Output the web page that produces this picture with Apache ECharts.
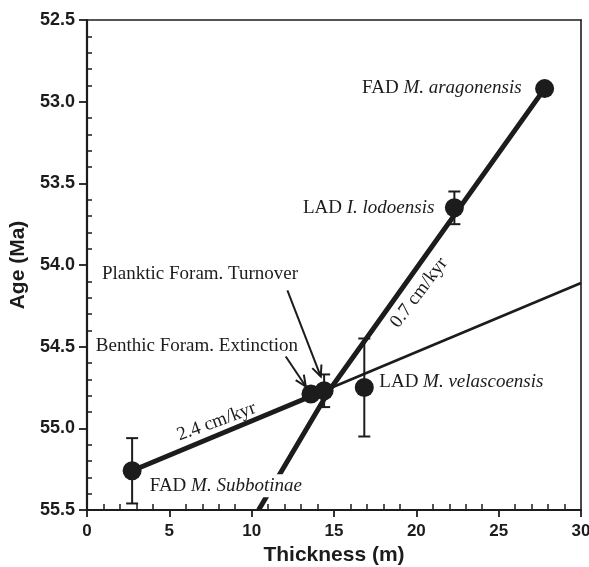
<!DOCTYPE html>
<html>
<head>
<meta charset="utf-8">
<style>
  html, body { margin: 0; padding: 0; background: #fff; }
  #chart { width: 589px; height: 567px; }
</style>
<script src="https://cdn.jsdelivr.net/npm/echarts@6/dist/echarts.min.js"></script>
</head>
<body>
<div id="chart"></div>
<script>
// ---- data ----
const eventPrefix = ['FAD ', 'Benthic Foram. Extinction', 'Planktic Foram. Turnover', 'LAD ', 'LAD ', 'FAD '];
const eventTaxon  = ['M. Subbotinae', '', '', 'M. velascoensis', 'I. lodoensis', 'M. aragonensis'];
const thickness = [2.74, 13.6, 14.4, 16.84, 22.31, 27.79];   // m
const age       = [55.26, 54.79, 54.77, 54.75, 53.65, 52.92]; // Ma
const ageError  = [0.2, 0, 0.1, 0.3, 0.1, 0];                 // Ma (+/-)

// 2.4 cm/kyr fit (thick part) and its extension
const slowFitX = [2.74, 14.4];
const slowFitY = [55.26, 54.77];
const slowExtX = [14.4, 30];
const slowExtY = [54.77, 54.11];
// 0.7 cm/kyr fit
const fastFitX = [10.42, 14.7, 27.79];
const fastFitY = [55.5, 54.77, 52.92];

const rateText = ['2.4 cm/kyr', '0.7 cm/kyr'];
const rateAtX  = [7.87, 20.16];
const rateAtY  = [54.96, 54.17];
const rateAngle = [20, 53];

// arrows: [fromX, fromY, toX, toY]
const arrowFromX = [12.17, 12.07];
const arrowFromY = [54.156, 54.56];
const arrowToX   = [14.2, 13.29];
const arrowToY   = [54.683, 54.744];

const xTickLabels = ['0', '5', '10', '15', '20', '25', '30'];
const yTickLabels = ['52.5', '53.0', '53.5', '54.0', '54.5', '55.0', '55.5'];

// ---- presentation ----
const INK = '#1c1c1c';
const SERIF = '"Liberation Serif", "DejaVu Serif", serif';
const SANS = '"Liberation Sans", Arial, sans-serif';

const labelLayout = [
  { align: 'left',  offset: [16.6, 15],   bg: true },
  { align: 'right', offset: [-13, -48] },
  { align: 'right', offset: [-26, -117] },
  { align: 'left',  offset: [15, -5.5] },
  { align: 'right', offset: [-20, 0] },
  { align: 'right', offset: [-23, -1] }
];

const pts = thickness.map((x, i) => {
  const L = labelLayout[i];
  const txt = eventTaxon[i] ? '{n|' + eventPrefix[i] + '}{i|' + eventTaxon[i] + '}' : '{n|' + eventPrefix[i] + '}';
  return {
    value: [x, age[i]],
    label: {
      show: true,
      position: 'inside',
      align: L.align,
      verticalAlign: 'middle',
      offset: L.offset,
      formatter: txt,
      backgroundColor: L.bg ? '#fff' : 'transparent',
      padding: L.bg ? [2, 1, 2, 1] : 0,
      rich: {
        n: { fontFamily: SERIF, fontSize: 19, color: INK },
        i: { fontFamily: SERIF, fontSize: 19, fontStyle: 'italic', color: INK }
      }
    }
  };
});

const errData = thickness.map((x, i) => [x, age[i] - ageError[i], age[i] + ageError[i]]).filter((d, i) => ageError[i] > 0);
const arrowData = arrowFromX.map((x, i) => [x, arrowFromY[i], arrowToX[i], arrowToY[i]]);
const rateData = rateText.map((t, i) => [rateAtX[i], rateAtY[i], i]);

const baseX = { type: 'value', min: 0, max: 30, interval: 5, gridIndex: 0, splitLine: { show: false } };
const baseY = { type: 'value', min: 52.5, max: 55.5, interval: 0.5, inverse: true, gridIndex: 0, splitLine: { show: false } };

const chart = echarts.init(document.getElementById('chart'), null, { renderer: 'canvas' });
chart.setOption({
  backgroundColor: '#fff',
  animation: false,
  grid: { left: 87, right: 8, top: 20, bottom: 57, containLabel: false, outerBoundsMode: 'none' },
  xAxis: [
    Object.assign({}, baseX, {
      position: 'bottom',
      name: 'Thickness (m)', nameLocation: 'middle', nameGap: 35,
      nameTextStyle: { fontFamily: SANS, fontWeight: 'bold', fontSize: 21, color: INK },
      axisLine: { show: true, onZero: false, lineStyle: { color: INK, width: 2.2 } },
      axisTick: { show: true, length: 7, lineStyle: { color: INK, width: 1.8 } },
      axisLabel: { margin: 13, fontFamily: SANS, fontWeight: 'bold', fontSize: 17, color: INK,
        formatter: v => xTickLabels[Math.round(v / 5)] }
    }),
    Object.assign({}, baseX, {
      position: 'bottom',
      axisLine: { show: false, onZero: false },
      axisTick: { show: true, inside: true, length: 0.01, lineStyle: { opacity: 0, width: 0 } },
      axisLabel: { show: false },
      minorTick: { show: true, splitNumber: 5, length: 6, lineStyle: { color: INK, width: 1.5 } }
    }),
    Object.assign({}, baseX, {
      position: 'top',
      axisLine: { show: true, onZero: false, lineStyle: { color: INK, width: 1.6 } },
      axisTick: { show: false }, axisLabel: { show: false }
    })
  ],
  yAxis: [
    Object.assign({}, baseY, {
      position: 'left',
      name: 'Age (Ma)', nameLocation: 'middle', nameGap: 54,
      nameTextStyle: { fontFamily: SANS, fontWeight: 'bold', fontSize: 21, color: INK },
      axisLine: { show: true, onZero: false, lineStyle: { color: INK, width: 2.2 } },
      axisTick: { show: true, length: 8, lineStyle: { color: INK, width: 1.8 } },
      axisLabel: { margin: 12, fontFamily: SANS, fontWeight: 'bold', fontSize: 18, color: INK,
        formatter: v => yTickLabels[Math.round((v - 52.5) / 0.5)] }
    }),
    Object.assign({}, baseY, {
      position: 'left',
      axisLine: { show: false, onZero: false },
      axisTick: { show: true, inside: true, length: 0.01, lineStyle: { opacity: 0, width: 0 } },
      axisLabel: { show: false },
      minorTick: { show: true, splitNumber: 5, length: 5, lineStyle: { color: INK, width: 1.5 } }
    }),
    Object.assign({}, baseY, {
      position: 'right',
      axisLine: { show: true, onZero: false, lineStyle: { color: INK, width: 1.6 } },
      axisTick: { show: false }, axisLabel: { show: false }
    })
  ],
  series: [
    {
      type: 'line', name: 'fast', xAxisIndex: 0, yAxisIndex: 0,
      data: fastFitX.map((x, i) => [x, fastFitY[i]]),
      symbol: 'none', lineStyle: { color: INK, width: 5 }, z: 2
    },
    {
      type: 'line', name: 'slowExt', xAxisIndex: 0, yAxisIndex: 0,
      data: slowExtX.map((x, i) => [x, slowExtY[i]]),
      symbol: 'none', lineStyle: { color: INK, width: 2.6 }, z: 2
    },
    {
      type: 'line', name: 'slow', xAxisIndex: 0, yAxisIndex: 0,
      data: slowFitX.map((x, i) => [x, slowFitY[i]]),
      symbol: 'none', lineStyle: { color: INK, width: 5 }, z: 2
    },
    {
      type: 'custom', name: 'err', xAxisIndex: 0, yAxisIndex: 0,
      data: errData, encode: { x: 0, y: [1, 2] }, z: 3,
      renderItem: function (params, api) {
        const top = api.coord([api.value(0), api.value(1)]);
        const bot = api.coord([api.value(0), api.value(2)]);
        const w = 6;
        const st = { stroke: INK, lineWidth: 2 };
        return { type: 'group', children: [
          { type: 'line', shape: { x1: top[0], y1: top[1], x2: bot[0], y2: bot[1] }, style: st },
          { type: 'line', shape: { x1: top[0] - w, y1: top[1], x2: top[0] + w, y2: top[1] }, style: st },
          { type: 'line', shape: { x1: bot[0] - w, y1: bot[1], x2: bot[0] + w, y2: bot[1] }, style: st }
        ] };
      }
    },
    {
      type: 'custom', name: 'arrows', xAxisIndex: 0, yAxisIndex: 0,
      data: arrowData, encode: { x: [0, 2], y: [1, 3] }, z: 4,
      renderItem: function (params, api) {
        const a = api.coord([api.value(0), api.value(1)]);
        const b = api.coord([api.value(2), api.value(3)]);
        const ang = Math.atan2(b[1] - a[1], b[0] - a[0]);
        const L = 12, spread = 0.42;
        const h1 = [b[0] - L * Math.cos(ang - spread), b[1] - L * Math.sin(ang - spread)];
        const h2 = [b[0] - L * Math.cos(ang + spread), b[1] - L * Math.sin(ang + spread)];
        const st = { stroke: INK, lineWidth: 2, fill: null };
        return { type: 'group', children: [
          { type: 'line', shape: { x1: a[0], y1: a[1], x2: b[0], y2: b[1] }, style: st },
          { type: 'polyline', shape: { points: [h1, b, h2] }, style: st }
        ] };
      }
    },
    {
      type: 'custom', name: 'rates', xAxisIndex: 0, yAxisIndex: 0,
      data: rateData, encode: { x: 0, y: 1 }, z: 5,
      renderItem: function (params, api) {
        const p = api.coord([api.value(0), api.value(1)]);
        const k = api.value(2);
        return {
          type: 'text', x: p[0], y: p[1], rotation: rateAngle[k] * Math.PI / 180,
          style: { text: rateText[k], fontFamily: SERIF, fontSize: 19, fill: INK,
            align: 'center', verticalAlign: 'middle', textAlign: 'center', textVerticalAlign: 'middle' }
        };
      }
    },
    {
      type: 'scatter', name: 'events', xAxisIndex: 0, yAxisIndex: 0,
      data: pts, symbol: 'circle', symbolSize: 19,
      itemStyle: { color: INK, opacity: 1 }, z: 6
    }
  ]
});
</script>
</body>
</html>
